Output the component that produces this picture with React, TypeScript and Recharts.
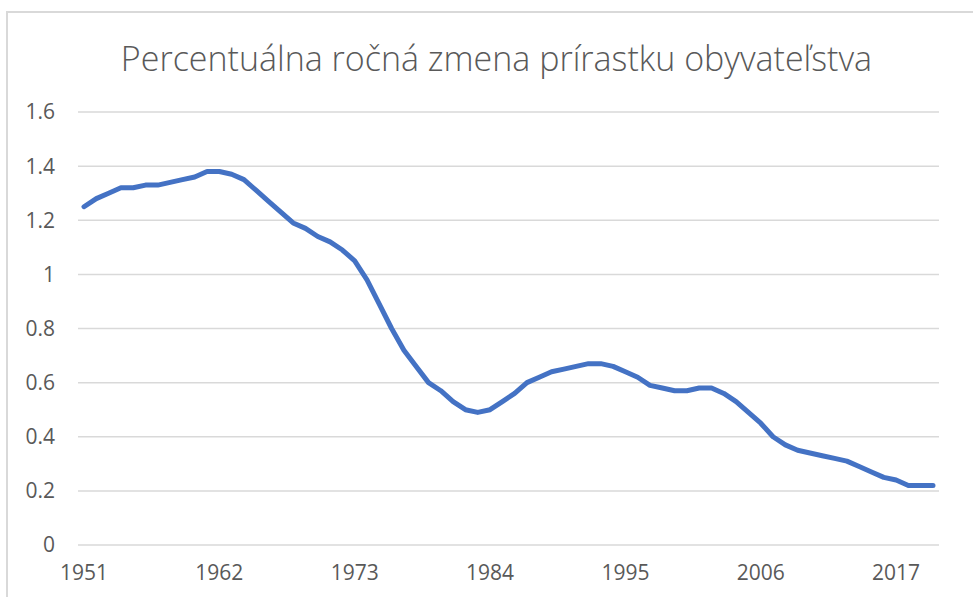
import { LineChart, Line, XAxis, YAxis, CartesianGrid } from "recharts";

const years = [
  1951, 1952, 1953, 1954, 1955, 1956, 1957, 1958, 1959, 1960,
  1961, 1962, 1963, 1964, 1965, 1966, 1967, 1968, 1969, 1970,
  1971, 1972, 1973, 1974, 1975, 1976, 1977, 1978, 1979, 1980,
  1981, 1982, 1983, 1984, 1985, 1986, 1987, 1988, 1989, 1990,
  1991, 1992, 1993, 1994, 1995, 1996, 1997, 1998, 1999, 2000,
  2001, 2002, 2003, 2004, 2005, 2006, 2007, 2008, 2009, 2010,
  2011, 2012, 2013, 2014, 2015, 2016, 2017, 2018, 2019, 2020,
];

const growth = [
  1.25, 1.28, 1.3, 1.32, 1.32, 1.33, 1.33, 1.34, 1.35, 1.36,
  1.38, 1.38, 1.37, 1.35, 1.31, 1.27, 1.23, 1.19, 1.17, 1.14,
  1.12, 1.09, 1.05, 0.98, 0.89, 0.8, 0.72, 0.66, 0.6, 0.57,
  0.53, 0.5, 0.49, 0.5, 0.53, 0.56, 0.6, 0.62, 0.64, 0.65,
  0.66, 0.67, 0.67, 0.66, 0.64, 0.62, 0.59, 0.58, 0.57, 0.57,
  0.58, 0.58, 0.56, 0.53, 0.49, 0.45, 0.4, 0.37, 0.35, 0.34,
  0.33, 0.32, 0.31, 0.29, 0.27, 0.25, 0.24, 0.22, 0.22, 0.22,
];

const yTicks = [0, 0.2, 0.4, 0.6, 0.8, 1, 1.2, 1.4, 1.6];

const title = "Percentuálna ročná zmena prírastku obyvateľstva";

const data = years.map((year, i) => ({ year, value: growth[i] }));

export default function App() {
  return (
    <div
      style={{
        position: "absolute",
        left: 0,
        top: 0,
        width: 973,
        height: 597,
        overflow: "hidden",
        background: "#fff",
        fontFamily: "'Open Sans', sans-serif",
      }}
    >
      {/* chart frame, only top and left edges are in view */}
      <div
        style={{
          position: "absolute",
          left: 6,
          top: 11,
          width: 1000,
          height: 620,
          borderTop: "2px solid #d9d9d9",
          borderLeft: "2px solid #d9d9d9",
        }}
      />
      <div
        style={{
          position: "absolute",
          left: 0,
          width: 993,
          top: 36,
          textAlign: "center",
          fontSize: 34,
          fontWeight: 300,
          color: "#595959",
          lineHeight: "44px",
          whiteSpace: "nowrap",
        }}
      >
        {title}
      </div>
      <div style={{ position: "absolute", left: 0, top: 0 }}>
        <LineChart
          width={973}
          height={597}
          data={data}
          margin={{ top: 112, right: 34, bottom: 22, left: 0 }}
        >
          <CartesianGrid vertical={false} stroke="#d9d9d9" strokeWidth={1.5} />
          <XAxis
            dataKey="year"
            height={30}
            interval={10}
            padding={{ left: 6, right: 6 }}
            axisLine={false}
            tickLine={false}
            tickMargin={14}
            tick={{ fill: "#595959", fontSize: 21 }}
          />
          <YAxis
            width={78}
            domain={[0, 1.6]}
            ticks={yTicks}
            axisLine={false}
            tickLine={false}
            tickMargin={17}
            tick={{ fill: "#595959", fontSize: 21 }}
          />
          <Line
            type="linear"
            dataKey="value"
            stroke="#4472C4"
            strokeWidth={5}
            strokeLinecap="round"
            strokeLinejoin="round"
            dot={false}
            isAnimationActive={false}
          />
        </LineChart>
      </div>
    </div>
  );
}
